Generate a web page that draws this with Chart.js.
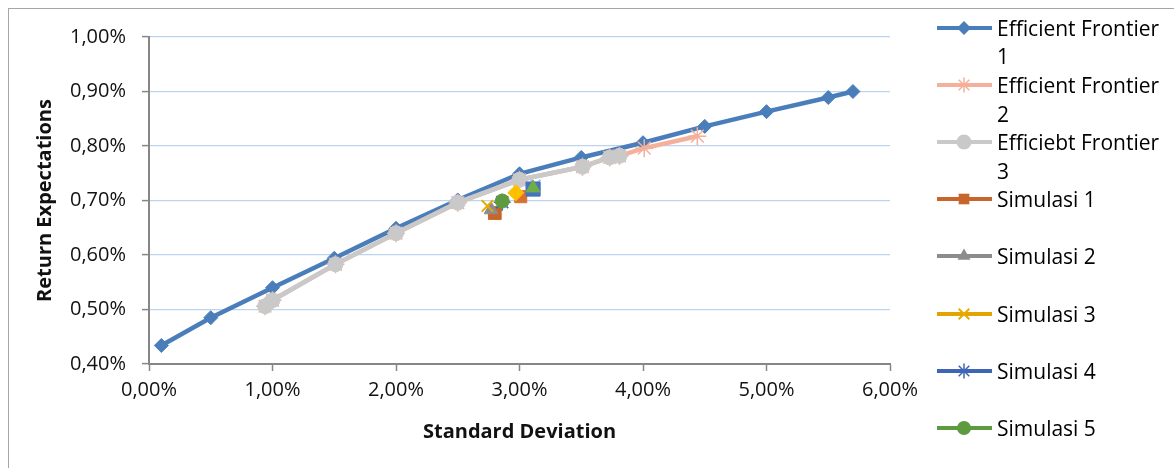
<!DOCTYPE html>
<html>
<head>
<meta charset="utf-8">
<script src="https://cdn.jsdelivr.net/npm/chart.js@4/dist/chart.umd.min.js"></script>
<style>
  html, body { margin: 0; padding: 0; background: #fff; }
  #wrap { position: relative; width: 1174px; height: 468px; overflow: hidden; font-family: 'Open Sans', sans-serif; }
  #frame { position: absolute; left: 8px; top: 8px; width: 1300px; height: 600px; border: 1px solid #A6A6A6; box-sizing: border-box; }
  #c { position: absolute; left: 0; top: 0; }
  #legend { position: absolute; left: 937px; top: 0; width: 237px; height: 468px; }
  .item { position: absolute; left: 0; display: flex; align-items: flex-start; }
  .item svg { flex: none; display: block; }
  .item span { margin-left: 4px; font-size: 21px; line-height: 28.7px; width: 176px; color: #000; }
</style>
</head>
<body>
<div id="wrap">
  <div id="frame"></div>
  <canvas id="c" width="1174" height="468"></canvas>
  <div id="legend"></div>
</div>
<script>
// Portfolio risk (standard deviation, %) against expected return (%)
const xTickValues = [0, 1, 2, 3, 4, 5, 6];
const yTickValues = [0.4, 0.5, 0.6, 0.7, 0.8, 0.9, 1.0];

const ef1Risk   = [0.10, 0.50, 1.00, 1.50, 2.00, 2.50, 3.00, 3.50, 4.00, 4.50, 5.00, 5.50, 5.70];
const ef1Return = [0.434, 0.485, 0.540, 0.594, 0.649, 0.701, 0.749, 0.779, 0.806, 0.836, 0.863, 0.889, 0.900];

const ef2Risk   = [0.94, 1.00, 1.51, 2.00, 2.50, 3.00, 3.51, 3.73, 3.81, 4.01, 4.44];
const ef2Return = [0.506, 0.517, 0.583, 0.640, 0.696, 0.738, 0.762, 0.779, 0.782, 0.796, 0.818];

const ef3Risk   = [0.94, 1.00, 1.51, 2.00, 2.50, 3.00, 3.51, 3.73, 3.81];
const ef3Return = [0.506, 0.517, 0.583, 0.640, 0.696, 0.738, 0.762, 0.779, 0.782];

const sim1Risk = [2.80, 3.01], sim1Return = [0.677, 0.707];
const sim2Risk = [2.77, 3.13], sim2Return = [0.683, 0.729];
const sim3Risk = [2.74, 2.97], sim3Return = [0.690, 0.714];
const sim4Risk = [2.86, 3.11], sim4Return = [0.697, 0.721];
const sim5Risk = [2.86, 3.11], sim5Return = [0.699, 0.723];

const seriesNames = ['Efficient Frontier 1', 'Efficient Frontier 2', 'Efficiebt Frontier 3',
                     'Simulasi 1', 'Simulasi 2', 'Simulasi 3', 'Simulasi 4', 'Simulasi 5'];

const pts = (xs, ys) => xs.map((x, i) => ({ x, y: ys[i] }));
const pct = v => v.toFixed(2).replace('.', ',') + '%';

// series appearance
const look = [
  { line: '#4A7EBB', style: 'rectRot', r: 7,   fill: '#4A7EBB', bw: 1 },
  { line: '#F4B09A', style: 'star',    r: 9,   fill: '#F4B09A', bw: 1.5 },
  { line: '#C9C9C9', style: 'circle',  r: 7.5, fill: '#C9C9C9', bw: 1 },
  { line: '#C8652A', style: 'rect',    r: 9,   fill: '#C8652A', bw: 1 },
  { line: '#8C8C8C', style: 'triangle',r: 8,   fill: '#8C8C8C', bw: 1 },
  { line: '#E2A400', style: 'crossRot',r: 8,   fill: '#E8AC00', bw: 2 },
  { line: '#3E66B4', style: 'star',    r: 8.5, fill: '#3E66B4', bw: 1.5 },
  { line: '#5E9A3E', style: 'circle',  r: 7,   fill: '#5E9A3E', bw: 1 }
];

const frontier = (i, data) => ({
  label: seriesNames[i], data, showLine: true, tension: 0,
  borderColor: look[i].line, borderWidth: 4.5,
  pointStyle: look[i].style, pointRadius: look[i].r,
  pointBackgroundColor: look[i].fill, pointBorderColor: look[i].fill,
  pointBorderWidth: look[i].bw, order: 10 - i
});

// simulation points: second point of each run uses its own marker
const simulation = (i, data, style2, color2, r2) => ({
  label: seriesNames[i], data, showLine: false,
  borderColor: look[i].line,
  pointStyle: [look[i].style, style2],
  pointRadius: [look[i].r, r2],
  pointBackgroundColor: [look[i].fill, color2],
  pointBorderColor: [look[i].fill, color2],
  pointBorderWidth: [look[i].bw, style2 === 'crossRot' ? 2 : 1],
  order: 10 - i
});

const datasets = [
  frontier(0, pts(ef1Risk, ef1Return)),
  frontier(1, pts(ef2Risk, ef2Return)),
  frontier(2, pts(ef3Risk, ef3Return)),
  simulation(3, pts(sim1Risk, sim1Return), 'rect', '#D8702F', 8.5),
  simulation(4, pts(sim2Risk, sim2Return), 'crossRot', '#A9C6EA', 7),
  simulation(5, pts(sim3Risk, sim3Return), 'rectRot', '#FFC000', 8),
  simulation(6, pts(sim4Risk, sim4Return), 'rect', '#4472C4', 10),
  simulation(7, pts(sim5Risk, sim5Return), 'triangle', '#70AD47', 8)
];

const tickFont = { family: "'Open Sans', sans-serif", size: 20 };
const titleFont = { family: "'Open Sans', sans-serif", size: 20, weight: 'bold' };

new Chart(document.getElementById('c'), {
  type: 'scatter',
  data: { datasets },
  options: {
    responsive: false,
    animation: false,
    events: [],
    layout: { padding: { left: 0, right: 284, top: 37, bottom: 0 } },
    plugins: { legend: { display: false }, tooltip: { enabled: false } },
    scales: {
      x: {
        type: 'linear', min: 0, max: 6,
        afterFit: s => { s.height = 104; },
        afterBuildTicks: s => { s.ticks = xTickValues.map(v => ({ value: v })); },
        ticks: { font: tickFont, color: '#111', padding: 7, callback: pct, maxRotation: 0 },
        grid: { drawOnChartArea: false, tickLength: 7, tickColor: '#868686', tickWidth: 1.5 },
        border: { color: '#868686', width: 2 },
        title: { display: true, text: 'Standard Deviation', font: titleFont, color: '#111',
                 padding: { top: 4, bottom: 24 } }
      },
      y: {
        type: 'linear', min: 0.4, max: 1.0,
        afterFit: s => { s.width = 149; },
        afterBuildTicks: s => { s.ticks = yTickValues.map(v => ({ value: v })); },
        ticks: { font: tickFont, color: '#111', padding: 16, callback: pct },
        grid: { color: '#BDD3EE', lineWidth: 1.2, tickLength: 7, tickColor: '#868686', tickWidth: 1.5 },
        border: { color: '#868686', width: 2 },
        title: { display: true, text: 'Return Expectations', font: titleFont, color: '#111',
                 padding: { top: 33, bottom: 0 } }
      }
    }
  }
});

// legend on the right with line + marker swatches
function markerSvg(style, r, color, bw) {
  const cx = 27, cy = 14;
  const d = r * Math.SQRT1_2;
  switch (style) {
    case 'rectRot':
      return `<polygon points="${cx},${cy - r} ${cx + r},${cy} ${cx},${cy + r} ${cx - r},${cy}" fill="${color}"/>`;
    case 'rect':
      return `<rect x="${cx - d}" y="${cy - d}" width="${2 * d}" height="${2 * d}" fill="${color}"/>`;
    case 'circle':
      return `<circle cx="${cx}" cy="${cy}" r="${r}" fill="${color}"/>`;
    case 'triangle': {
      const w = r * 1.732;
      return `<polygon points="${cx},${cy - r} ${cx + w / 2},${cy + r / 2} ${cx - w / 2},${cy + r / 2}" fill="${color}"/>`;
    }
    case 'crossRot':
      return `<path d="M${cx - d},${cy - d}L${cx + d},${cy + d}M${cx + d},${cy - d}L${cx - d},${cy + d}" stroke="${color}" stroke-width="${bw}"/>`;
    case 'star':
      return `<path d="M${cx - d},${cy - d}L${cx + d},${cy + d}M${cx + d},${cy - d}L${cx - d},${cy + d}M${cx},${cy - r}L${cx},${cy + r}M${cx - r},${cy}L${cx + r},${cy}" stroke="${color}" stroke-width="${bw}"/>`;
  }
  return '';
}

const legendEl = document.getElementById('legend');
seriesNames.forEach((name, i) => {
  const item = document.createElement('div');
  item.className = 'item';
  item.style.top = (28 + i * 57.2 - 14.35) + 'px';
  const lk = look[i];
  item.innerHTML =
    `<svg width="56" height="28" viewBox="0 0 56 28">` +
    `<line x1="0" y1="14" x2="55" y2="14" stroke="${lk.line}" stroke-width="4"/>` +
    markerSvg(lk.style, Math.min(lk.r, 7.5), lk.fill, lk.bw) +
    `</svg><span></span>`;
  item.querySelector('span').textContent = name;
  legendEl.appendChild(item);
});
</script>
</body>
</html>
